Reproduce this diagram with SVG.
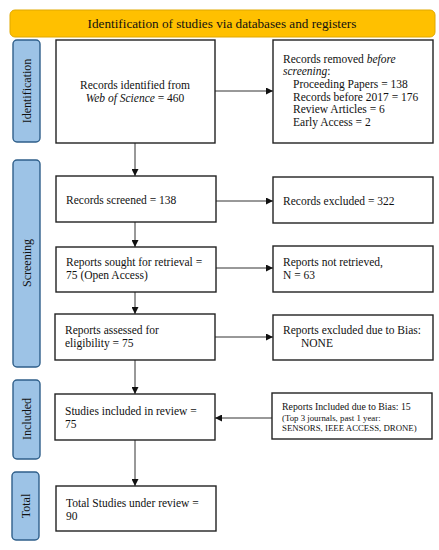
<svg xmlns="http://www.w3.org/2000/svg" width="439" height="550" viewBox="0 0 439 550">
<style>
text{font-family:"Liberation Serif","Times New Roman",serif;font-size:11.5px;fill:#111}
.box{fill:#fff;stroke:#222;stroke-width:1.4}
.side{fill:#9DC3E6;stroke:#2F5F8A;stroke-width:1.4}
text.sidet{font-size:12px;text-anchor:middle}
.con{stroke:#333;stroke-width:1;fill:none;marker-end:url(#ah)}
text.small{font-size:8.8px}
text.mid{font-size:9.8px}
text.title{font-size:13.2px;text-anchor:middle}
.it{font-style:italic}
</style>
<defs>
<marker id="ah" viewBox="0 0 10 10" refX="10" refY="5" markerWidth="7" markerHeight="7" orient="auto" markerUnits="userSpaceOnUse">
<path d="M0,0 L10,5 L0,10 z" fill="#111"/>
</marker>
</defs>
<rect width="439" height="550" fill="#fff"/>
<g id="banner">
<rect x="10" y="10" width="425" height="27" rx="5" fill="#FFC000" stroke="#E0A800" stroke-width="1"/>
<text class="title" x="222" y="28">Identification of studies via databases and registers</text>
</g>
<g id="label-identification">
<rect class="side" x="13" y="40" width="27" height="102" rx="4"/>
<text class="sidet" transform="translate(31,91) rotate(-90)">Identification</text>
</g>
<g id="label-screening">
<rect class="side" x="13" y="160" width="27" height="207" rx="4"/>
<text class="sidet" transform="translate(31,263) rotate(-90)">Screening</text>
</g>
<g id="label-included">
<rect class="side" x="13" y="380" width="27" height="79" rx="4"/>
<text class="sidet" transform="translate(31,419) rotate(-90)">Included</text>
</g>
<g id="label-total">
<rect class="side" x="12" y="472" width="27" height="68" rx="4"/>
<text class="sidet" transform="translate(30,506) rotate(-90)">Total</text>
</g>
<g id="connectors">
<line class="con" x1="215" y1="91" x2="273" y2="91"/>
<line class="con" x1="135" y1="143" x2="135" y2="176"/>
<line class="con" x1="216" y1="201" x2="273" y2="201"/>
<line class="con" x1="135" y1="222" x2="135" y2="247"/>
<line class="con" x1="216" y1="268" x2="273" y2="268"/>
<line class="con" x1="135" y1="292" x2="135" y2="314"/>
<line class="con" x1="215" y1="337" x2="273" y2="337"/>
<line class="con" x1="135" y1="360" x2="135" y2="394"/>
<line class="con" x1="272" y1="418" x2="215" y2="418"/>
<line class="con" x1="135" y1="440" x2="135" y2="486"/>
</g>
<g id="n-identified">
<rect class="box" x="56" y="40" width="159" height="103"/>
<text x="135" y="89" text-anchor="middle">Records identified from</text>
<text x="135" y="102" text-anchor="middle"><tspan class="it">Web of Science</tspan> = 460</text>
</g>
<g id="n-removed">
<rect class="box" x="273" y="40" width="160" height="103"/>
<text x="283" y="63">Records removed <tspan class="it">before</tspan></text>
<text x="283" y="75"><tspan class="it">screening</tspan>:</text>
<text x="293" y="88">Proceeding Papers = 138</text>
<text x="293" y="100.5">Records before 2017 = 176</text>
<text x="293" y="113">Review Articles = 6</text>
<text x="293" y="126">Early Access = 2</text>
</g>
<g id="n-screened">
<rect class="box" x="56" y="176" width="160" height="46"/>
<text x="66" y="204">Records screened = 138</text>
</g>
<g id="n-excluded">
<rect class="box" x="273" y="177" width="160" height="46"/>
<text x="283" y="205">Records excluded = 322</text>
</g>
<g id="n-sought">
<rect class="box" x="56" y="247" width="160" height="45"/>
<text x="66" y="266">Reports sought for retrieval =</text>
<text x="66" y="279">75 (Open Access)</text>
</g>
<g id="n-notretrieved">
<rect class="box" x="273" y="246" width="160" height="46"/>
<text x="283" y="266">Reports not retrieved,</text>
<text x="283" y="279">N = 63</text>
</g>
<g id="n-assessed">
<rect class="box" x="55" y="314" width="160" height="46"/>
<text x="65" y="334">Reports assessed for</text>
<text x="65" y="347">eligibility = 75</text>
</g>
<g id="n-bias-excluded">
<rect class="box" x="273" y="315" width="160" height="45"/>
<text x="283" y="334">Reports excluded due to Bias:</text>
<text x="301" y="347">NONE</text>
</g>
<g id="n-included">
<rect class="box" x="55" y="394" width="160" height="46"/>
<text x="65" y="415">Studies included in review =</text>
<text x="65" y="428">75</text>
</g>
<g id="n-bias-included">
<rect class="box" x="272" y="393" width="160" height="46"/>
<text class="mid" x="282" y="410">Reports Included due to Bias: 15</text>
<text class="small" x="282" y="421">(Top 3 journals, past 1 year:</text>
<text class="small" x="282" y="431">SENSORS, IEEE ACCESS, DRONE)</text>
</g>
<g id="n-total">
<rect class="box" x="56" y="486" width="160" height="45"/>
<text x="66" y="507">Total Studies under review =</text>
<text x="66" y="520">90</text>
</g>
</svg>
